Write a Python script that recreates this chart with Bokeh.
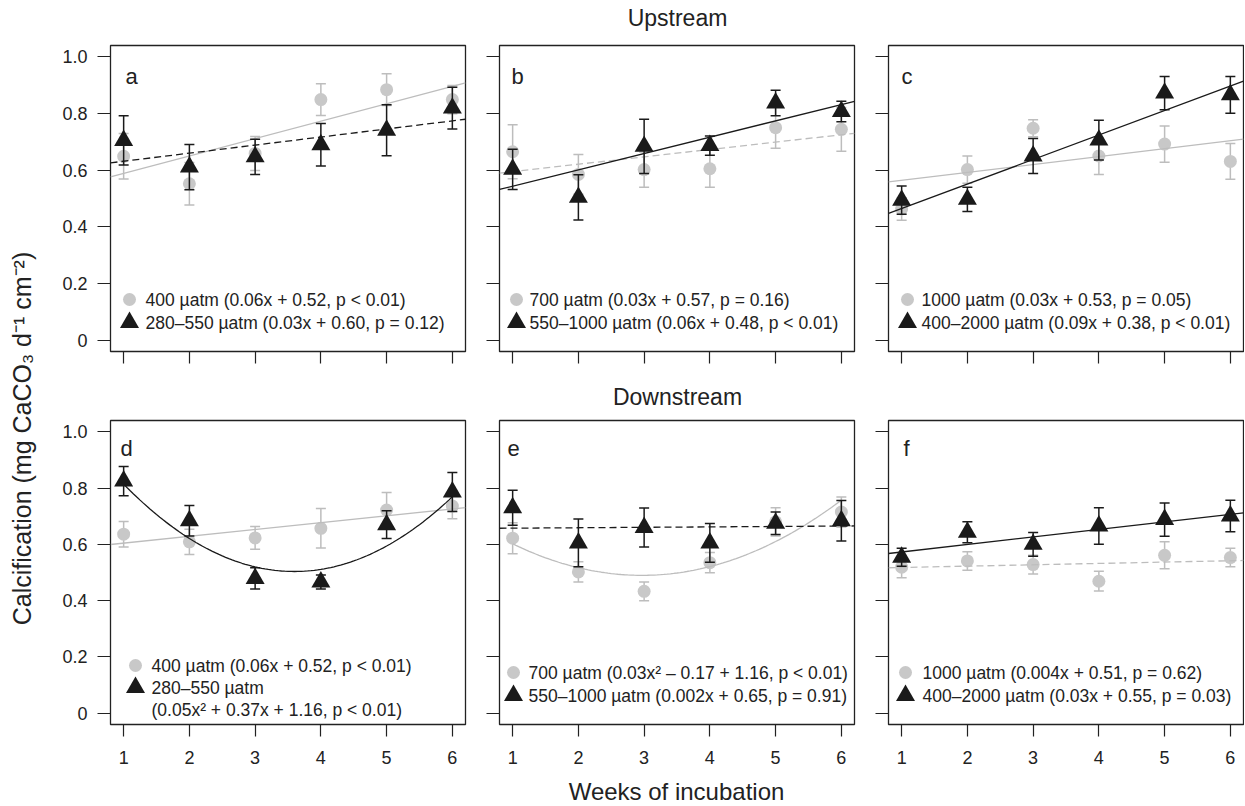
import numpy as np
from bokeh.plotting import figure
from bokeh.layouts import row, column
from bokeh.models import Range1d, FixedTicker, CustomJSTickFormatter
from bokeh.core.properties import value
from bokeh.embed import file_html
from bokeh.resources import INLINE

# ---------------- data ----------------
weeks = [1, 2, 3, 4, 5, 6]
y_ticks = [0, 0.2, 0.4, 0.6, 0.8, 1.0]
letters = ["a", "b", "c", "d", "e", "f"]
row_titles = ["Upstream", "Downstream"]
x_title = "Weeks of incubation"
y_title = "Calcification (mg CaCO\u2083 d\u207b\u00b9 cm\u207b\u00b2)"

# grey circles (constant pCO2) : means and error
grey_a = [0.649, 0.552, 0.659, 0.849, 0.884, 0.849]
grey_a_err = [0.080, 0.075, 0.060, 0.056, 0.056, 0.050]
grey_b = [0.665, 0.585, 0.602, 0.605, 0.750, 0.744]
grey_b_err = [0.095, 0.070, 0.062, 0.065, 0.073, 0.077]
grey_c = [0.463, 0.602, 0.748, 0.650, 0.692, 0.631]
grey_c_err = [0.040, 0.048, 0.030, 0.065, 0.064, 0.063]
grey_d = [0.636, 0.609, 0.623, 0.657, 0.722, 0.736]
grey_d_err = [0.045, 0.045, 0.040, 0.070, 0.062, 0.045]
grey_e = [0.622, 0.502, 0.433, 0.535, 0.680, 0.715]
grey_e_err = [0.055, 0.036, 0.033, 0.036, 0.050, 0.053]
grey_f = [0.519, 0.541, 0.528, 0.469, 0.561, 0.553]
grey_f_err = [0.038, 0.033, 0.033, 0.035, 0.048, 0.033]

# black triangles (fluctuating pCO2)
black_a = [0.705, 0.611, 0.647, 0.690, 0.741, 0.819]
black_a_err = [0.087, 0.080, 0.062, 0.075, 0.090, 0.074]
black_b = [0.603, 0.504, 0.684, 0.687, 0.837, 0.807]
black_b_err = [0.071, 0.080, 0.096, 0.034, 0.045, 0.036]
black_c = [0.494, 0.497, 0.650, 0.706, 0.872, 0.866]
black_c_err = [0.050, 0.043, 0.062, 0.070, 0.059, 0.065]
black_d = [0.825, 0.684, 0.479, 0.466, 0.670, 0.786]
black_d_err = [0.052, 0.054, 0.038, 0.025, 0.049, 0.069]
black_e = [0.730, 0.605, 0.660, 0.605, 0.675, 0.684]
black_e_err = [0.062, 0.085, 0.069, 0.069, 0.040, 0.072]
black_f = [0.554, 0.643, 0.600, 0.665, 0.688, 0.701]
black_f_err = [0.032, 0.037, 0.042, 0.065, 0.059, 0.056]

# fitted regressions (polynomial coefficients, highest power first)
grey_fit = [[0.0615, 0.527], [0.026, 0.569], [0.028, 0.536],
            [0.0243, 0.580], [0.029, -0.172, 0.745], [0.0048, 0.513]]
black_fit = [[0.0285, 0.603], [0.0576, 0.486], [0.0865, 0.378],
             [0.046, -0.331, 1.099], [0.0015, 0.656], [0.0268, 0.546]]
grey_dashed = [False, True, False, False, False, True]
black_dashed = [True, False, False, False, True, False]

grey_labels = ["400 \u00b5atm (0.06x + 0.52, p < 0.01)",
               "700 \u00b5atm (0.03x + 0.57, p = 0.16)",
               "1000 \u00b5atm (0.03x + 0.53, p = 0.05)",
               "400 \u00b5atm (0.06x + 0.52, p < 0.01)",
               "700 \u00b5atm (0.03x\u00b2 \u2013 0.17 + 1.16, p < 0.01)",
               "1000 \u00b5atm (0.004x + 0.51, p = 0.62)"]
black_labels = [["280\u2013550 \u00b5atm (0.03x + 0.60, p = 0.12)"],
                ["550\u20131000 \u00b5atm (0.06x + 0.48, p < 0.01)"],
                ["400\u20132000 \u00b5atm (0.09x + 0.38, p < 0.01)"],
                ["280\u2013550 \u00b5atm", "(0.05x\u00b2 + 0.37x + 1.16, p < 0.01)"],
                ["550\u20131000 \u00b5atm (0.002x + 0.65, p = 0.91)"],
                ["400\u20132000 \u00b5atm (0.03x + 0.55, p = 0.03)"]]

greys = [grey_a, grey_b, grey_c, grey_d, grey_e, grey_f]
grey_errs = [grey_a_err, grey_b_err, grey_c_err, grey_d_err, grey_e_err, grey_f_err]
blacks = [black_a, black_b, black_c, black_d, black_e, black_f]
black_errs = [black_a_err, black_b_err, black_c_err, black_d_err, black_e_err, black_f_err]

# ---------------- layout / style ----------------
FONT = "Liberation Sans"
GREY = "#c8c8c8"
GREY_BAR = "#bdbdbd"
BLACK = "#1a1a1a"
TXT = "#222222"
XR = (0.8, 6.2)
YR = (-0.04, 1.04)
FW = 355
YLAB_W = 44
LEFT_B = [66, 20, 20]
RIGHT_B = [14, 14, 1]
TOP_B = [10, 12]
BOT_B = [33, 53]
FH = [306, 304]
letter_dx = [15, 12, 13, 10, 8, 15]
letter_dy = [31, 31, 31, 28, 28, 28]
leg_marker_dx = [19, 17, 19, 25, 14, 17]
leg_text_dx = [35, 30, 33, 41, 29, 34]
leg_rows = [[52, 29], [52, 29], [52, 29], [59, 37, 15], [52, 29], [52, 29]]


def make_panel(i):
    col, r = i % 3, i // 3
    fh = FH[r]
    p = figure(width=LEFT_B[col] + FW + RIGHT_B[col], height=TOP_B[r] + fh + BOT_B[r],
               x_range=Range1d(*XR), y_range=Range1d(*YR),
               output_backend="svg", toolbar_location=None,
               min_border_left=LEFT_B[col], min_border_right=RIGHT_B[col],
               min_border_top=TOP_B[r], min_border_bottom=BOT_B[r])
    p.grid.visible = False
    p.outline_line_color = TXT
    p.outline_line_width = 1.3
    p.background_fill_color = "white"
    p.border_fill_color = "white"

    p.xaxis.ticker = FixedTicker(ticks=weeks)
    p.yaxis.ticker = FixedTicker(ticks=y_ticks)
    p.axis.axis_line_color = None
    p.axis.minor_tick_line_color = None
    p.axis.major_tick_line_color = TXT
    p.axis.major_tick_line_width = 1.2
    p.axis.major_label_text_font = FONT
    p.axis.major_label_text_font_size = "18px"
    p.axis.major_label_text_color = TXT
    p.xaxis.major_tick_in = 0
    p.xaxis.major_tick_out = 12
    p.yaxis.major_tick_in = 0
    p.yaxis.major_tick_out = 13
    if r == 0:
        p.xaxis.formatter = CustomJSTickFormatter(code="return '';")
        p.xaxis.major_label_standoff = 0
    else:
        p.xaxis.major_label_standoff = 14
    if col == 0:
        p.yaxis.formatter = CustomJSTickFormatter(
            code="return tick == 0 ? '0' : tick.toFixed(1);")
        p.yaxis.major_label_standoff = 10
    else:
        p.yaxis.formatter = CustomJSTickFormatter(code="return '';")
        p.yaxis.major_label_standoff = 0

    sx = (XR[1] - XR[0]) / FW
    sy = (YR[1] - YR[0]) / fh

    g = np.array(greys[i]); ge = np.array(grey_errs[i])
    b = np.array(blacks[i]); be = np.array(black_errs[i])

    # grey series
    p.segment(x0=weeks, y0=g - ge, x1=weeks, y1=g + ge, line_color=GREY_BAR, line_width=1.5)
    p.scatter(x=weeks + weeks, y=list(g - ge) + list(g + ge), marker="dash", size=10,
              line_color=GREY_BAR, line_width=1.5)
    p.scatter(x=weeks, y=g, marker="circle", size=13, fill_color=GREY, line_color=None)
    gf = grey_fit[i]
    gx = np.linspace(1, 6, 101) if len(gf) == 3 else np.array(XR)
    p.line(gx, np.polyval(gf, gx), line_color=GREY_BAR, line_width=1.3,
           line_dash="7 4" if grey_dashed[i] else "solid")

    # black series
    p.segment(x0=weeks, y0=b - be, x1=weeks, y1=b + be, line_color=BLACK, line_width=1.5)
    p.scatter(x=weeks + weeks, y=list(b - be) + list(b + be), marker="dash", size=10,
              line_color=BLACK, line_width=1.5)
    p.scatter(x=weeks, y=b, marker="triangle", size=19, fill_color=BLACK, line_color=None)
    bf = black_fit[i]
    bx = np.linspace(1, 6, 101) if len(bf) == 3 else np.array(XR)
    p.line(bx, np.polyval(bf, bx), line_color=BLACK, line_width=1.3,
           line_dash="7 4" if black_dashed[i] else "solid")

    # panel letter
    p.text(x=[XR[0] + letter_dx[i] * sx], y=[YR[1] - letter_dy[i] * sy], text=[letters[i]],
           text_font=value(FONT), text_font_size="22px", text_color=TXT,
           text_align="left", text_baseline="alphabetic")

    # legend
    rows_px = leg_rows[i]
    mx = XR[0] + leg_marker_dx[i] * sx
    tx = XR[0] + leg_text_dx[i] * sx
    ys = [YR[0] + v * sy for v in rows_px]
    p.scatter(x=[mx], y=[ys[0]], marker="circle", size=13, fill_color=GREY, line_color=None)
    p.scatter(x=[mx], y=[ys[1]], marker="triangle", size=19, fill_color=BLACK, line_color=None)
    texts = [grey_labels[i]] + black_labels[i]
    p.text(x=[tx] * len(texts), y=ys[:len(texts)], text=texts,
           text_font=value(FONT), text_font_size="17.5px", text_color=TXT,
           text_align="left", text_baseline="middle")
    return p


def band(w, h, text, tx, ty_from_top, size, angle=0.0):
    p = figure(width=w, height=h, x_range=Range1d(0, w), y_range=Range1d(0, h),
               output_backend="svg", toolbar_location=None,
               x_axis_location=None, y_axis_location=None,
               min_border=0, min_border_left=0, min_border_right=0,
               min_border_top=0, min_border_bottom=0)
    p.grid.visible = False
    p.outline_line_color = None
    p.text(x=[tx], y=[h - ty_from_top], text=[text], angle=angle,
           text_font=value(FONT), text_font_size=size, text_color=TXT,
           text_align="center", text_baseline="middle")
    return p


panels = [make_panel(i) for i in range(6)]
COLW = sum(LEFT_B) + 3 * FW + sum(RIGHT_B)
CX = 677 - YLAB_W
title_up = band(COLW, 35, row_titles[0], CX, 17, "23px")
title_down = band(COLW, 24, row_titles[1], CX, 12, "23px")
xlab = band(COLW, 28, x_title, CX - 1, 14, "24px")
TOTAL_H = 35 + panels[0].height + 24 + panels[3].height + 28
ylab = band(YLAB_W, TOTAL_H, y_title, 21, 438, "25px", angle=np.pi / 2)

grid = column(title_up, row(*panels[:3]), title_down, row(*panels[3:]), xlab)
p = row(ylab, grid)

open("out.html", "w").write(file_html(p, INLINE))
